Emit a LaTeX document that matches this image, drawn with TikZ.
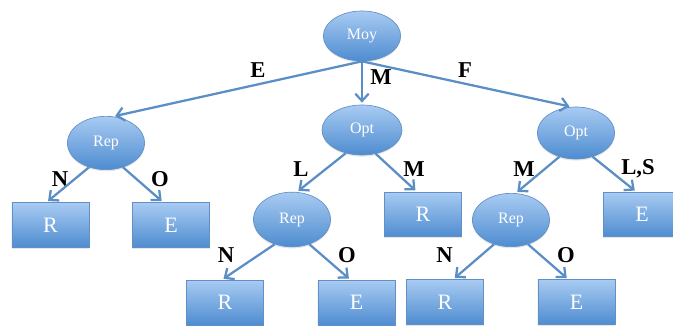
\documentclass[tikz,border=0pt]{standalone}
\usepackage{fontspec}
\setmainfont{Liberation Serif}
\usetikzlibrary{shapes.geometric, arrows.meta, shadows}
\definecolor{nodetop}{RGB}{168,203,242}
\definecolor{nodebot}{RGB}{78,140,208}
\definecolor{nodeedge}{RGB}{98,143,198}
\definecolor{linkblue}{RGB}{92,142,198}
\tikzset{
  test/.style={ellipse, top color=nodetop, bottom color=nodebot, draw=nodeedge,
    line width=0.5pt, minimum width=58pt, minimum height=40pt, inner sep=0pt,
    drop shadow={opacity=0.2, shadow xshift=0pt, shadow yshift=-1.2pt},
    text=white, font=\fontsize{12}{13}\selectfont},
  leaf/.style={rectangle, top color=nodetop, bottom color=nodebot, draw=nodeedge,
    line width=0.5pt, minimum width=58pt, minimum height=33.5pt, inner sep=0pt,
    drop shadow={opacity=0.2, shadow xshift=0pt, shadow yshift=-1.2pt},
    text=white, font=\fontsize{16.5}{18}\selectfont},
  link/.style={draw=linkblue, line width=1.7pt,
    -{Straight Barb[length=5.5pt,width=10pt]}, shorten >=1.5pt},
  lbl/.style={font=\fontsize{17}{19}\selectfont\bfseries, inner sep=0pt}
}

\begin{document}
\begin{tikzpicture}[x=0.75pt,y=-0.75pt]
\useasboundingbox (0,0) rectangle (673,327);

% Root
\node[test, minimum height=37.5pt] (moy) at (362,36) {Moy};

% Left branch
\node[test] (rep1) at (106,143) {Rep};
\node[leaf] (r1) at (50.5,225) {R};
\node[leaf] (e1) at (171,225) {E};

% Middle branch
\node[test, minimum width=60pt, minimum height=37.5pt] (opt1) at (362,130) {Opt};
\node[test, minimum height=41pt] (rep2) at (292,219.5) {Rep};
\node[leaf] (r2) at (423,214.5) {R};
\node[leaf] (r3) at (225,302.5) {R};
\node[leaf] (e2) at (356.5,302.5) {E};

% Right branch
\node[test, minimum height=39pt] (opt2) at (576,133) {Opt};
\node[test] (rep3) at (511,220) {Rep};
\node[leaf] (e4) at (642,214.5) {E};
\node[leaf] (r4) at (445,302) {R};
\node[leaf] (e3) at (576.5,302) {E};

% Edge labels
\node[lbl] (lE) at (258,70) {E};
\node[lbl] (lM) at (381,77) {M};
\node[lbl] (lF) at (465,70) {F};
\node[lbl] (lN1) at (60,179) {N};
\node[lbl] (lO1) at (160,179) {O};
\node[lbl] (lL2) at (301,169) {L};
\node[lbl] (lM2) at (414,169) {M};
\node[lbl] (lN2) at (226,255) {N};
\node[lbl] (lO2) at (347,255) {O};
\node[lbl] (lM3) at (524,169) {M};
\node[lbl] (lLS) at (638,169) {L,S};
\node[lbl] (lN3) at (444.5,255) {N};
\node[lbl] (lO3) at (566,255) {O};

% Connectors
\draw[link] (moy.south) -- (rep1.75);
\draw[link] (moy.south) -- (opt1.north);
\draw[link] (moy.south) -- (opt2.100);
\draw[link] (rep1.235) -- (r1.100);
\draw[link] (rep1.305) -- (e1.109);
\draw[link] (opt1.235) -- (rep2.80);
\draw[link] (opt1.300) -- (r2.105);
\draw[link] (rep2.235) -- (r3.98);
\draw[link] (rep2.305) -- (e2.105);
\draw[link] (opt2.235) -- (rep3.80);
\draw[link] (opt2.305) -- (e4.104);
\draw[link] (rep3.235) -- (r4.70);
\draw[link] (rep3.305) -- (e3.110);
\end{tikzpicture}
\end{document}
